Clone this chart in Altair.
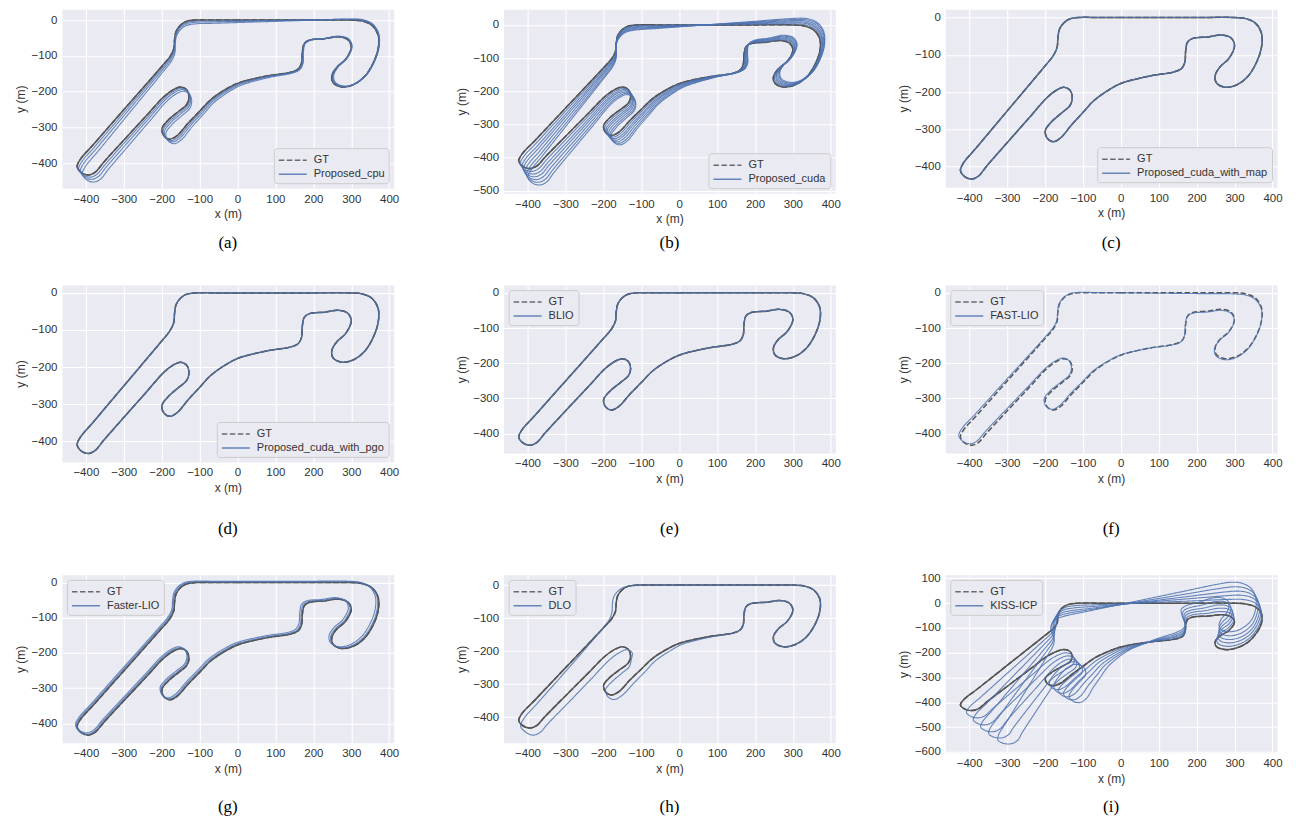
import math
import altair as alt
import pandas as pd

GT_X = [0, -60, -112, -135, -150, -162, -166, -168, -178, -200, -300, -380, -415, -423,
        -410, -392, -375, -355, -300, -240, -195, -170, -150, -134, -128, -134, -155, -183,
        -199, -194, -178, -158, -130, -100, -70, -25, 5, 80, 140, 160, 169, 171, 176, 190,
        230, 266, 291, 300, 285, 262, 249, 252, 275, 305, 335, 358, 371, 371, 355, 330, 300,
        200, 100, 0]
GT_Y = [0, 0, 0, -4, -14, -32, -55, -80, -102, -130, -251, -348, -390, -410,
        -428, -433, -425, -400, -336, -267, -215, -195, -187, -195, -215, -236, -255, -280,
        -303, -324, -333, -322, -288, -255, -222, -190, -175, -156, -146, -137, -120, -90, -66, -56,
        -52, -47, -55, -76, -110, -132, -155, -175, -187, -181, -158, -120, -80, -42, -15, -3, 0,
        0, 0, 0]

METHODS = ["Proposed_cpu", "Proposed_cuda", "Proposed_cuda_with_map",
           "Proposed_cuda_with_pgo", "BLIO", "FAST-LIO", "Faster-LIO", "DLO", "KISS-ICP"]
CAPTIONS = ["(a)", "(b)", "(c)", "(d)", "(e)", "(f)", "(g)", "(h)", "(i)"]

# per-lap drift of each estimate (rotation in degrees about the start, scale, shift x, shift y)
LAP_ROT = {
    "Proposed_cpu": [0.6, 1.2, 1.9],
    "Proposed_cuda": [0.8, 1.6, 2.4, 3.2, 4.0, 4.8],
    "Proposed_cuda_with_map": [0.0],
    "Proposed_cuda_with_pgo": [0.0],
    "BLIO": [0.0],
    "FAST-LIO": [-0.6],
    "Faster-LIO": [0.0, 0.0],
    "DLO": [0.0],
    "KISS-ICP": [3.5, 7.0, 10.5, 14.0, 17.6],
}
LAP_SCALE = {
    "Proposed_cpu": [1.0, 1.0, 1.0],
    "Proposed_cuda": [1.004, 1.008, 1.012, 1.017, 1.021, 1.025],
    "Proposed_cuda_with_map": [1.0],
    "Proposed_cuda_with_pgo": [1.0],
    "BLIO": [1.0],
    "FAST-LIO": [1.0],
    "Faster-LIO": [1.0, 0.995],
    "DLO": [1.0],
    "KISS-ICP": [1.007, 1.014, 1.021, 1.028, 1.035],
}
LAP_TX = {
    "Proposed_cpu": [0, 0, 0],
    "Proposed_cuda": [0, 0, -1, -1, -1, -2],
    "Proposed_cuda_with_map": [0],
    "Proposed_cuda_with_pgo": [0],
    "BLIO": [0],
    "FAST-LIO": [0],
    "Faster-LIO": [-3, -6],
    "DLO": [0],
    "KISS-ICP": [-7, -14, -21, -28, -35],
}
LAP_TY = {
    "Proposed_cpu": [-2, -4, -7],
    "Proposed_cuda": [-1, -2, -3, -4, -5, -6],
    "Proposed_cuda_with_map": [0],
    "Proposed_cuda_with_pgo": [0],
    "BLIO": [0],
    "FAST-LIO": [0],
    "Faster-LIO": [2, 4],
    "DLO": [0],
    "KISS-ICP": [-3, -6, -10, -13, -16],
}

# DLO local deviation from GT at each waypoint (metres)
DLO_DX = [0, 0, 0, -4, -7, -9, -10, -9, -5, -1, 5, 8, 6, 5, 8, 7, 8, 9, 10, 11, 12, 12,
          13, 10, 2, 2, 4, 6, 5, 6, 6, 7, 8, 8, 7, 6, 4, 1, 0, 0, 0, 0, 0, 0, 0, 0, 0, 0,
          0, 0, 0, 0, 0, 0, 0, 0, 0, 0, 0, 0, 0, 0, 0, 0]
DLO_DY = [0, 0, 0, 0, 0, 0, 0, 0, 0, 0, -5, -8, -14, -18, -20, -22, -22, -20, -18, -14, -11,
          -10, -9, -10, -10, -12, -12, -13, -14, -14, -14, -13, -12, -10, -8, -6, -4, -2, 0,
          0, 0, 0, 0, 0, 0, 0, 0, 0, 0, 0, 0, 0, 0, 0, 0, 0, 0, 0, 0, 0, 0, 0, 0, 0]

Y_DOMAINS = [[-470, 30], [-507, 47], [-455, 22], [-456, 21], [-455, 22], [-455, 22],
             [-455, 22], [-478, 31], [-603, 114]]
Y_TICKS = [[0, -100, -200, -300, -400], [0, -100, -200, -300, -400, -500],
           [0, -100, -200, -300, -400], [0, -100, -200, -300, -400],
           [0, -100, -200, -300, -400], [0, -100, -200, -300, -400],
           [0, -100, -200, -300, -400], [0, -100, -200, -300, -400],
           [100, 0, -100, -200, -300, -400, -500, -600]]
X_TICKS = [-400, -300, -200, -100, 0, 100, 200, 300, 400]
X_DOMAIN = [-463, 412]
HEIGHTS = [179, 184, 178, 177, 168, 168, 168, 168, 178]
CAP_OFFSET = [15, 10, 16, 28, 37, 37, 25, 25, 15]
LEGEND_POS = ["bottom-right"] * 4 + ["top-left"] * 5
SOLID_GT = [True, True, True, True, True, False, True, True, True]

GT_COLOR = "#555555"
EST_COLOR = "#4C72B0"


def estimate_frame(name):
    rows = []
    for k, (r, s, tx, ty) in enumerate(zip(LAP_ROT[name], LAP_SCALE[name],
                                           LAP_TX[name], LAP_TY[name])):
        c, sn = math.cos(math.radians(r)), math.sin(math.radians(r))
        for i, (x, y) in enumerate(zip(GT_X, GT_Y)):
            if name == "DLO":
                x, y = x + DLO_DX[i], y + DLO_DY[i]
            rows.append({"i": i, "lap": k, "series": name,
                         "x": s * (x * c - y * sn) + tx,
                         "y": s * (x * sn + y * c) + ty})
    return pd.DataFrame(rows)


gt_df = pd.DataFrame({"i": list(range(len(GT_X))), "lap": 0, "series": "GT",
                      "x": GT_X, "y": GT_Y})


def panel(idx):
    name = METHODS[idx]
    dom = ["GT", name]
    xenc = alt.X("x:Q", scale=alt.Scale(domain=X_DOMAIN, nice=False, zero=False),
                 axis=alt.Axis(values=X_TICKS, title="x (m)"))
    yenc = alt.Y("y:Q", scale=alt.Scale(domain=Y_DOMAINS[idx], nice=False, zero=False),
                 axis=alt.Axis(values=Y_TICKS[idx], title="y (m)"))
    leg = alt.Legend(orient=LEGEND_POS[idx], offset=5)
    color = alt.Color("series:N", title=None,
                      scale=alt.Scale(domain=dom, range=[GT_COLOR, EST_COLOR]), legend=leg)
    dash = alt.StrokeDash("series:N", title=None,
                          scale=alt.Scale(domain=dom, range=[[5.5, 2.5], [1, 0]]), legend=leg)
    layers = []
    if SOLID_GT[idx]:
        layers.append(alt.Chart(gt_df).mark_line(
            interpolate="catmull-rom", strokeWidth=1.5, color=GT_COLOR).encode(
            x=xenc, y=yenc, detail="lap:N", order="i:Q"))
    layers.append(alt.Chart(gt_df).mark_line(interpolate="catmull-rom", strokeWidth=1.5).encode(
        x=xenc, y=yenc, color=color, strokeDash=dash, detail="lap:N", order="i:Q"))
    layers.append(alt.Chart(estimate_frame(name)).mark_line(
        interpolate="catmull-rom", strokeWidth=1.1, opacity=0.85).encode(
        x=xenc, y=yenc, color=color, strokeDash=dash, detail="lap:N", order="i:Q"))
    return alt.layer(*layers).properties(
        width=332, height=HEIGHTS[idx],
        title=alt.TitleParams(CAPTIONS[idx], orient="bottom", font="Liberation Serif",
                              fontSize=17, fontWeight="normal", color="black",
                              offset=CAP_OFFSET[idx]))


rows = []
for r in range(3):
    row = alt.hconcat(*[panel(3 * r + c) for c in range(3)], spacing=55).resolve_scale(
        color="independent", strokeDash="independent", x="independent", y="independent")
    rows.append(row)

chart = alt.vconcat(rows[0], rows[1], rows[2], spacing=33).resolve_scale(
    color="independent", strokeDash="independent", x="independent", y="independent"
).properties(
    padding={"left": 5, "top": 0, "right": 5, "bottom": 0}
).configure_view(fill="#EAEAF2", stroke="transparent").configure_axis(
    grid=True, gridColor="white", gridWidth=1.1, domain=False, ticks=False,
    labelFont="Liberation Sans", labelFontSize=11.5, labelColor="#333333",
    titleFont="Liberation Sans", titleFontSize=12, titleFontWeight="normal",
    titleColor="#333333", labelPadding=5, titlePadding=4
).configure_legend(
    labelFont="Liberation Sans", labelFontSize=11, labelColor="#333333",
    fillColor="#EAEAF2", strokeColor="#cccccc", cornerRadius=3, padding=4,
    symbolType="M-2,0H2", symbolSize=196, symbolStrokeWidth=1.5, rowPadding=1,
    symbolOffset=7, labelOffset=13, labelLimit=300
)

chart.save("out.html", embed_options={"renderer": "svg", "actions": False})
